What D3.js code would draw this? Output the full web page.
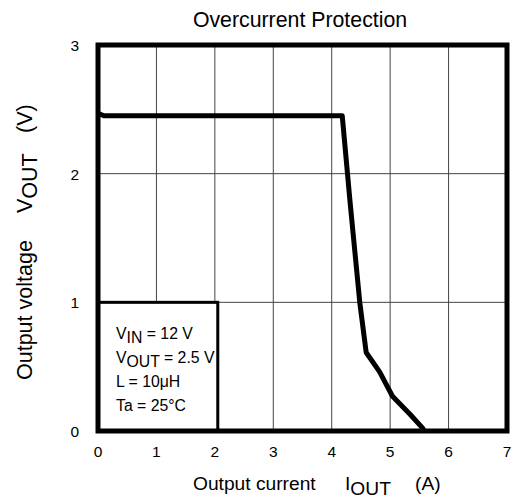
<!DOCTYPE html>
<html>
<head>
<meta charset="utf-8">
<script src="https://cdn.jsdelivr.net/npm/d3@7"></script>
<style>
  body { margin: 0; background: #fff; }
  text { font-family: "Liberation Sans", Arial, sans-serif; fill: #000; }
</style>
</head>
<body>
<div id="chart"></div>
<script>
// data
const xTicks = [0, 1, 2, 3, 4, 5, 6, 7];
const yTicks = [0, 1, 2, 3];
const currentA = [0, 0.1, 4.18, 4.31, 4.48, 4.59, 4.82, 5.04, 5.34, 5.56, 5.58];
const voltageV = [2.47, 2.45, 2.45, 1.80, 1.00, 0.61, 0.46, 0.27, 0.13, 0.02, 0];
const legendLines = [
    [["V", false], ["IN", true], [" = 12 V", false]],
    [["V", false], ["OUT", true], [" = 2.5 V", false]],
    [["L = 10\u03bcH", false]],
    [["Ta = 25\u00b0C", false]]
];
const legendCorner = [2.05, 1]; // box from the origin to this point

const W = 517, H = 500;

let x = d3.scaleLinear().domain([0, 7]).range([98, 507]);
let y = d3.scaleLinear().domain([0, 3]).range([431, 45]);

let svg = d3.select("#chart").append("svg")
    .attr("width", W)
    .attr("height", H);

// grid
svg.append("g").selectAll("line.vg")
    .data(xTicks.slice(1, -1))
    .enter().append("line")
    .attr("x1", d => x(d)).attr("x2", d => x(d))
    .attr("y1", y(3)).attr("y2", y(0))
    .style("stroke", "#444").style("stroke-width", 1);

svg.append("g").selectAll("line.hg")
    .data(yTicks.slice(1, -1))
    .enter().append("line")
    .attr("x1", x(0)).attr("x2", x(7))
    .attr("y1", d => y(d)).attr("y2", d => y(d))
    .style("stroke", "#444").style("stroke-width", 1);

// curve
let pts = currentA.map((c, i) => [c, voltageV[i]]);
svg.append("path")
    .datum(pts)
    .attr("d", d3.line().x(d => x(d[0])).y(d => y(d[1])))
    .style("fill", "none")
    .style("stroke", "#000")
    .style("stroke-width", 5)
    .style("stroke-linejoin", "round");

// legend box
svg.append("rect")
    .attr("x", x(0))
    .attr("y", y(legendCorner[1]))
    .attr("width", x(legendCorner[0]) - x(0))
    .attr("height", y(0) - y(legendCorner[1]))
    .style("fill", "#fff")
    .style("stroke", "#000")
    .style("stroke-width", 3);

let leg = svg.append("g").attr("font-size", 15.8);
legendLines.forEach(function(parts, i) {
    let t = leg.append("text")
        .attr("x", 116)
        .attr("y", 339 + i * 24);
    let prevSub = false;
    parts.forEach(function(p) {
        let dy = p[1] === prevSub ? 0 : (p[1] ? 4 : -4);
        t.append("tspan").attr("dy", dy).text(p[0]);
        prevSub = p[1];
    });
});

// frame
svg.append("rect")
    .attr("x", x(0)).attr("y", y(3))
    .attr("width", x(7) - x(0))
    .attr("height", y(0) - y(3))
    .style("fill", "none")
    .style("stroke", "#000")
    .style("stroke-width", 5);

// tick labels
svg.append("g").attr("font-size", 15.5)
    .selectAll("text")
    .data(xTicks)
    .enter().append("text")
    .attr("x", d => x(d))
    .attr("y", 457)
    .attr("text-anchor", "middle")
    .text(d => d);

svg.append("g").attr("font-size", 15.5)
    .selectAll("text")
    .data(yTicks)
    .enter().append("text")
    .attr("x", 79)
    .attr("y", d => y(d) + 6)
    .attr("text-anchor", "end")
    .text(d => d);

// title
svg.append("text")
    .attr("x", 300).attr("y", 27)
    .attr("text-anchor", "middle")
    .attr("font-size", 21.3)
    .text("Overcurrent Protection");

// x label
let xg = svg.append("g").attr("font-size", 19.2);
xg.append("text").attr("x", 193).attr("y", 490).text("Output current");
let xi = xg.append("text").attr("x", 345).attr("y", 490);
xi.append("tspan").text("I");
xi.append("tspan").attr("dy", 5).text("OUT");
xg.append("text").attr("x", 415).attr("y", 490).text("(A)");

// y label (rotated, reads bottom to top)
let yg = svg.append("g").attr("font-size", 21.5)
    .attr("transform", "translate(32,0) rotate(-90)");
yg.append("text").attr("x", -380).attr("y", 0).text("Output voltage");
let yv = yg.append("text").attr("x", -213).attr("y", 0);
yv.append("tspan").text("V");
yv.append("tspan").attr("dy", 5).text("OUT");
yg.append("text").attr("x", -133).attr("y", 0).text("(V)");
</script>
</body>
</html>
